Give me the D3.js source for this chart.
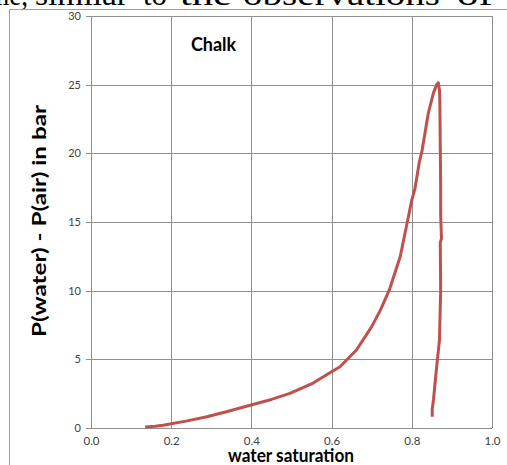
<!DOCTYPE html>
<html>
<head>
<meta charset="utf-8">
<script src="https://cdn.jsdelivr.net/npm/d3@7"></script>
<style>
  html, body { margin: 0; padding: 0; background: #fff; }
  svg { display: block; }
</style>
</head>
<body>
<svg width="507" height="465"></svg>
<script>
// water saturation vs capillary pressure
const saturation = [0.135, 0.16, 0.18, 0.197, 0.24, 0.289, 0.34, 0.399, 0.45, 0.496,
  0.554, 0.6, 0.621, 0.662, 0.7, 0.722, 0.744, 0.771, 0.789, 0.8,
  0.808, 0.819, 0.825, 0.841, 0.854, 0.862, 0.866, 0.869, 0.87, 0.871,
  0.872, 0.872, 0.874, 0.871, 0.872, 0.869, 0.862, 0.854, 0.851, 0.851]
const pressure = [0.08, 0.12, 0.2, 0.29, 0.52, 0.82, 1.2, 1.67, 2.08, 2.52,
  3.27, 4.1, 4.46, 5.68, 7.38, 8.6, 10.05, 12.47, 15.02, 16.6,
  17.45, 19.4, 20.1, 22.9, 24.4, 25.0, 25.15, 24.6, 23.7, 20.5,
  17.6, 15.5, 13.8, 13.5, 10.05, 6.4, 4.46, 2.04, 1.4, 0.82]
const xTicks = [0, 0.2, 0.4, 0.6, 0.8, 1.0]
const yTicks = [0, 5, 10, 15, 20, 25, 30]

// bits of the page text cut off above the chart
const pageWords = ['volume,', 'similar', 'to', 'the', 'observations', 'of']
const pageWordX = [-60, 35, 143, 180, 243, 457]
const pageWordW = [88, 93, 24, 52, 197, 36]

const svg = d3.select('svg')
const font = 'Lato, Calibri, sans-serif'

svg.append('g')
  .selectAll('text')
  .data(pageWords)
  .join('text')
  .attr('x', (d, i) => pageWordX[i])
  .attr('y', 5)
  .attr('textLength', (d, i) => pageWordW[i])
  .attr('lengthAdjust', 'spacingAndGlyphs')
  .attr('font-family', '"Liberation Serif", "Times New Roman", serif')
  .attr('font-size', 32)
  .attr('fill', '#000')
  .text(d => d)

// chart frame
svg.append('rect')
  .attr('x', 9.5).attr('y', 9.5)
  .attr('width', 700).attr('height', 700)
  .attr('fill', 'none')
  .attr('stroke', '#a0a0a0')

const x = d3.scaleLinear().domain([0, 1]).range([91, 492])
const y = d3.scaleLinear().domain([0, 30]).range([428, 16])

const grid = svg.append('g').attr('stroke', '#8f8f8f').attr('stroke-width', 1)
grid.selectAll('.h')
  .data(yTicks)
  .join('line')
  .attr('x1', x(0) - 5).attr('x2', x(1))
  .attr('y1', d => Math.round(y(d)) + 0.5).attr('y2', d => Math.round(y(d)) + 0.5)
grid.selectAll('.v')
  .data(xTicks)
  .join('line')
  .attr('x1', d => Math.round(x(d)) + 0.5).attr('x2', d => Math.round(x(d)) + 0.5)
  .attr('y1', y(30)).attr('y2', y(0))

svg.append('g')
  .selectAll('text')
  .data(yTicks)
  .join('text')
  .attr('x', x(0) - 10)
  .attr('y', d => y(d) + 4)
  .attr('text-anchor', 'end')
  .attr('font-family', font)
  .attr('font-size', 11)
  .attr('fill', '#404040')
  .text(d => d)

svg.append('g')
  .selectAll('text')
  .data(xTicks)
  .join('text')
  .attr('x', d => x(d) + 0.5)
  .attr('y', 445)
  .attr('text-anchor', 'middle')
  .attr('font-family', font)
  .attr('font-size', 11.5)
  .attr('fill', '#404040')
  .text(d3.format('.1f'))

const line = d3.line()
  .x((d, i) => x(saturation[i]))
  .y(d => y(d))

svg.append('path')
  .datum(pressure)
  .attr('d', line)
  .attr('fill', 'none')
  .attr('stroke', '#c0504d')
  .attr('stroke-width', 3)
  .attr('stroke-linejoin', 'round')

svg.append('text')
  .attr('x', 191).attr('y', 51)
  .attr('textLength', 45)
  .attr('font-family', font)
  .attr('font-weight', 'bold')
  .attr('font-size', 18)
  .text('Chalk')

svg.append('text')
  .attr('x', 291).attr('y', 462)
  .attr('text-anchor', 'middle')
  .attr('textLength', 126)
  .attr('lengthAdjust', 'spacingAndGlyphs')
  .attr('font-family', font)
  .attr('font-weight', 'bold')
  .attr('font-size', 18)
  .text('water saturation')

svg.append('text')
  .attr('transform', 'translate(46, 221) rotate(-90)')
  .attr('text-anchor', 'middle')
  .attr('textLength', 232)
  .attr('lengthAdjust', 'spacingAndGlyphs')
  .attr('font-family', font)
  .attr('font-weight', 'bold')
  .attr('font-size', 19)
  .text('P(water) - P(air) in bar')
</script>
</body>
</html>
